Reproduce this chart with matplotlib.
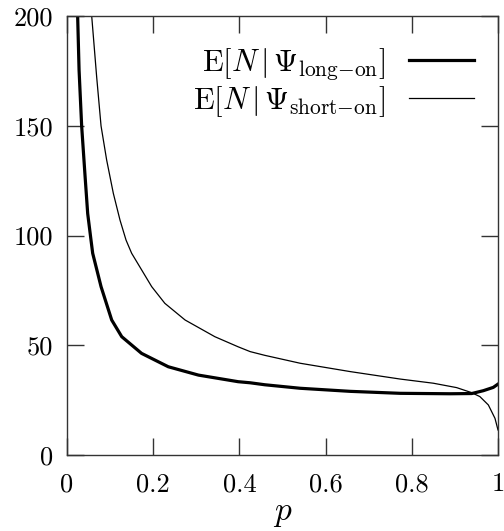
import numpy as np
import matplotlib
matplotlib.use("Agg")
import matplotlib.pyplot as plt

plt.rcParams['font.family'] = 'serif'
plt.rcParams['font.serif'] = ['cmr10']
plt.rcParams['mathtext.fontset'] = 'cm'
plt.rcParams['axes.formatter.use_mathtext'] = True

# E[N | Psi_long-on]
p_long = [0.0247, 0.028, 0.034, 0.042, 0.048, 0.0557, 0.0596, 0.079, 0.1037, 0.127,
          0.173, 0.235, 0.305, 0.397, 0.425, 0.459, 0.541, 0.657, 0.773, 0.889,
          0.939, 0.966, 0.989, 1.0]
n_long = [200, 175.4, 149.9, 126.8, 110.0, 97.9, 91.9, 76.7, 61.5, 53.9,
          46.3, 40.2, 36.4, 33.4, 32.9, 32.0, 30.4, 29.0, 28.1, 27.9,
          28.0, 29.3, 30.8, 32.3]

# E[N | Psi_short-on]
p_short = [0.0573, 0.0688, 0.079, 0.092, 0.1075, 0.123, 0.137, 0.150, 0.1965, 0.227,
           0.274, 0.343, 0.397, 0.425, 0.459, 0.541, 0.657, 0.773, 0.85, 0.904,
           0.939, 0.958, 0.9776, 0.993, 1.0]
n_short = [200, 172.3, 149.9, 134.4, 119.2, 107.0, 97.9, 91.9, 76.7, 69.1,
           61.5, 53.9, 49.3, 47.1, 45.4, 41.8, 38.0, 34.6, 32.7, 30.7,
           28.4, 26.6, 22.8, 16.7, 11.4]

xticks = [0, 0.2, 0.4, 0.6, 0.8, 1]
xticklabels = ['0', '0.2', '0.4', '0.6', '0.8', '1']
yticks = [0, 50, 100, 150, 200]
yticklabels = ['0', '50', '100', '150', '200']

W, H = 504, 531
fig = plt.figure(figsize=(W / 100, H / 100), dpi=100)
ax = fig.add_axes([67/W, 76/H, 431/W, 439/H])

ax.plot(p_long, n_long, color='black', lw=2.3, solid_joinstyle='round',
        label=r'$\mathrm{E}[N\,|\,\Psi_{\mathrm{long{-}on}}]$')
ax.plot(p_short, n_short, color='black', lw=0.9, solid_joinstyle='round',
        label=r'$\mathrm{E}[N\,|\,\Psi_{\mathrm{short{-}on}}]$')

ax.set_xlim(0, 1)
ax.set_ylim(0, 200)
ax.set_xticks(xticks)
ax.set_xticklabels(xticklabels)
ax.set_yticks(yticks)
ax.set_yticklabels(yticklabels)
ax.tick_params(direction='in', length=12, width=1, top=True, right=True,
               labelsize=19, colors='#333333', labelcolor='black')
ax.tick_params(axis='x', pad=26)
ax.tick_params(axis='y', pad=10)
plt.setp(ax.get_xticklabels(), va='baseline')
for s in ax.spines.values():
    s.set_linewidth(1.0)
    s.set_color('#333333')

fig.text((67 + 431 / 2) / W, 1 - 520 / H, r'$p$', fontsize=24,
         ha='center', va='baseline')

leg = ax.legend(loc='upper right', frameon=False, markerfirst=False,
                fontsize=22, handlelength=2.1, handletextpad=0.8,
                borderaxespad=0.3, labelspacing=0.05,
                bbox_to_anchor=(0.993, 0.98))
for t in leg.get_texts():
    t.set_ha('right')

fig.savefig('out.png', dpi=100)
